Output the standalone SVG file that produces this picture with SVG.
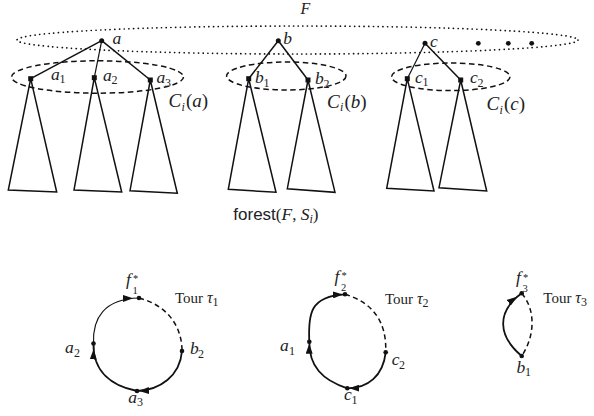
<svg xmlns="http://www.w3.org/2000/svg" width="594" height="416" viewBox="0 0 594 416">
<style>
.ln{fill:none;stroke:#111;stroke-width:1.5;stroke-linejoin:miter}
.tri{fill:none;stroke:#111;stroke-width:1.5}
.dash{fill:none;stroke:#111;stroke-width:1.5;stroke-dasharray:5.5 3.5}
.dot{fill:none;stroke:#111;stroke-width:1.7;stroke-dasharray:0.1 4.6;stroke-linecap:round}
.arc{fill:none;stroke:#111;stroke-width:1.8}
.thin{fill:none;stroke:#111;stroke-width:1.1}
.darc{fill:none;stroke:#111;stroke-width:1.5;stroke-dasharray:5 3.5}
.m{font-family:"Liberation Serif","DejaVu Serif",serif;font-style:italic;font-size:17.5px;fill:#222}
.s{font-family:"Liberation Serif","DejaVu Serif",serif;font-size:12px;font-style:normal;fill:#222}
.t{font-family:"Liberation Serif","DejaVu Serif",serif;font-size:10.5px;font-style:normal;fill:#222}
.r{font-family:"Liberation Serif","DejaVu Serif",serif;font-size:15px;fill:#222}
.big{font-size:19px}
.sf{font-family:"Liberation Sans","DejaVu Sans",sans-serif;font-size:17px;fill:#222}
.nd{fill:#111}
</style>
<defs>
<marker id="ah" markerUnits="userSpaceOnUse" viewBox="0 0 10 7" markerWidth="10" markerHeight="7" refX="12" refY="3.5" orient="auto">
<path d="M0,0 L10,3.5 L0,7 z" fill="#111"/>
</marker>
<marker id="ah6" markerUnits="userSpaceOnUse" viewBox="0 0 10 7" markerWidth="10" markerHeight="7" refX="16" refY="3.5" orient="auto">
<path d="M0,0 L10,3.5 L0,7 z" fill="#111"/>
</marker>
</defs>

<g id="forest-F">
<ellipse class="dot" cx="297.5" cy="40" rx="280.5" ry="14"/>
<text class="m" x="300.5" y="13.5" style="font-size:16px">F</text>
<circle class="nd" cx="478.3" cy="43.3" r="2.4"/>
<circle class="nd" cx="508.3" cy="43.3" r="2.4"/>
<circle class="nd" cx="531.7" cy="43.3" r="2.4"/>
</g>

<g id="connectors">
<line class="ln" x1="101.7" y1="40.7" x2="30.7" y2="78.7"/>
<line class="ln" x1="101.7" y1="40.7" x2="94.3" y2="77.7" style="stroke-width:1.2"/>
<line class="ln" x1="101.7" y1="40.7" x2="150.3" y2="80"/>
<line class="ln" x1="278.3" y1="40.7" x2="248.7" y2="78.7"/>
<line class="ln" x1="278.3" y1="40.7" x2="308" y2="80"/>
<line class="ln" x1="425" y1="43.3" x2="407.3" y2="78.7" style="stroke-width:1.2"/>
<line class="ln" x1="425" y1="43.3" x2="460.7" y2="80"/>
<!-- tour 1 -->
<path class="thin" d="M93.5,343.5 C92.5,318 104,299 139,298" marker-end="url(#ah6)"/>
<path class="arc" d="M137,391 C112,386 93,372 93.5,343.5" marker-end="url(#ah6)"/>
<path class="arc" d="M182,351 C180,376 160,390 137,391" marker-end="url(#ah)"/>
<path class="darc" d="M139,298 C166,305 182,325 182,351"/>
<!-- tour 2 -->
<path class="arc" d="M309.3,341.7 C308,314 310,296 345,294.3" marker-end="url(#ah)"/>
<path class="arc" d="M347.3,388.3 C322,380 309,366 309.3,341.7" marker-end="url(#ah)"/>
<path class="arc" d="M385.7,352.3 C383,376 368,388 347.3,388.3" marker-end="url(#ah)"/>
<path class="darc" d="M345,294.3 C371,302 387,320 385.7,352.3"/>
<!-- tour 3 -->
<path class="arc" d="M521.7,356 C498,336 496,312 521.7,293.3" marker-end="url(#ah6)"/>
<path class="darc" d="M521.7,293.3 C536,310 535,336 521.7,356"/>
</g>

<g id="node-a">
<circle class="nd" cx="101.7" cy="40.7" r="2.5"/>
<text class="m" x="112.5" y="43.5">a</text>
<ellipse class="dash" cx="97.5" cy="77" rx="86" ry="16.2"/>
<text class="m big" x="168.5" y="107">C</text><text class="s" x="181.5" y="110.5" style="font-style:italic">i</text><text class="r big" x="186" y="107">(<tspan class="m big">a</tspan>)</text>
</g>
<g id="node-a1">
<polygon class="tri" points="30.7,78.7 8.3,190 56.7,192"/>
<rect class="nd" x="28.2" y="76.2" width="5" height="5"/>
<text class="m" x="51" y="79.5">a</text><text class="s" x="59.5" y="83">1</text>
</g>
<g id="node-a2">
<polygon class="tri" points="94.3,77.7 74,190 121.7,192"/>
<rect class="nd" x="91.8" y="75.2" width="5" height="5"/>
<text class="m" x="103" y="80.5">a</text><text class="s" x="111.5" y="84">2</text>
</g>
<g id="node-a3">
<polygon class="tri" points="150.3,80 130,190.7 177.3,193.3"/>
<rect class="nd" x="147.8" y="77.5" width="5" height="5"/>
<text class="m" x="156.5" y="83">a</text><text class="s" x="165" y="86.5">3</text>
</g>

<g id="node-b">
<circle class="nd" cx="278.3" cy="40.7" r="2.5"/>
<text class="m" x="283.3" y="44">b</text>
<ellipse class="dash" cx="286.3" cy="76" rx="59.7" ry="14"/>
<text class="m big" x="327" y="107.5">C</text><text class="s" x="340" y="111" style="font-style:italic">i</text><text class="r big" x="344.5" y="107.5">(<tspan class="m big">b</tspan>)</text>
</g>
<g id="node-b1">
<polygon class="tri" points="248.7,78.7 228.3,189.3 276,192.3"/>
<rect class="nd" x="246.2" y="76.2" width="5" height="5"/>
<text class="m" x="255" y="83">b</text><text class="s" x="263.5" y="86.5">1</text>
</g>
<g id="node-b2">
<polygon class="tri" points="308,80 287.3,188.7 335,192.3"/>
<rect class="nd" x="305.5" y="77.5" width="5" height="5"/>
<text class="m" x="315" y="84">b</text><text class="s" x="323.5" y="87.5">2</text>
</g>

<g id="node-c">
<circle class="nd" cx="425" cy="43.3" r="2.5"/>
<text class="m" x="430" y="46.5">c</text>
<ellipse class="dash" cx="450.8" cy="76.8" rx="59.2" ry="13.8"/>
<text class="m big" x="486.5" y="110">C</text><text class="s" x="499.5" y="113.5" style="font-style:italic">i</text><text class="r big" x="504" y="110">(<tspan class="m big">c</tspan>)</text>
</g>
<g id="node-c1">
<polygon class="tri" points="407.3,78.7 386.7,188.3 434,191"/>
<rect class="nd" x="404.8" y="76.2" width="5" height="5"/>
<text class="m" x="415" y="82.5">c</text><text class="s" x="422.5" y="86">1</text>
</g>
<g id="node-c2">
<polygon class="tri" points="460.7,80 439,187.7 486.7,191"/>
<rect class="nd" x="458.2" y="77.5" width="5" height="5"/>
<text class="m" x="470" y="83">c</text><text class="s" x="477.5" y="86.5">2</text>
</g>

<g id="caption">
<text x="233.3" y="220"><tspan class="sf">forest</tspan><tspan class="r" style="font-size:17px">(</tspan><tspan class="m">F</tspan><tspan class="r" style="font-size:17px">, </tspan><tspan class="m">S</tspan><tspan class="s" style="font-style:italic" dy="3">i</tspan><tspan class="r" style="font-size:17px" dy="-3">)</tspan></text>
</g>

<g id="tour1">
<circle id="t1-f" class="nd" cx="139" cy="298" r="2.3"/>
<circle id="t1-a2" class="nd" cx="93.5" cy="343.5" r="2.3"/>
<circle id="t1-a3" class="nd" cx="137" cy="391" r="2.3"/>
<circle id="t1-b2" class="nd" cx="182" cy="351" r="2.3"/>
<text class="m" x="126" y="284.5">f</text><text class="t" x="133" y="282">*</text><text class="t" x="132.5" y="293.5">1</text>
<text class="r" x="175" y="303">Tour <tspan class="m" style="font-size:16px">τ</tspan><tspan class="s" dy="3">1</tspan></text>
<text class="m" x="65" y="353">a</text><text class="s" x="74" y="357">2</text>
<text class="m" x="190" y="354">b</text><text class="s" x="198" y="358">2</text>
<text class="m" x="128.3" y="402.5">a</text><text class="s" x="137" y="406">3</text>
</g>

<g id="tour2">
<circle id="t2-f" class="nd" cx="345" cy="294.3" r="2.3"/>
<circle id="t2-a1" class="nd" cx="309.3" cy="341.7" r="2.3"/>
<circle id="t2-c1" class="nd" cx="347.3" cy="388.3" r="2.3"/>
<circle id="t2-c2" class="nd" cx="385.7" cy="352.3" r="2.3"/>
<text class="m" x="334.5" y="281.5">f</text><text class="t" x="341.5" y="279">*</text><text class="t" x="341" y="290.5">2</text>
<text class="r" x="385" y="304">Tour <tspan class="m" style="font-size:16px">τ</tspan><tspan class="s" dy="3">2</tspan></text>
<text class="m" x="280" y="351">a</text><text class="s" x="289" y="354.5">1</text>
<text class="m" x="391.7" y="365">c</text><text class="s" x="399" y="368.5">2</text>
<text class="m" x="344" y="400">c</text><text class="s" x="351.5" y="403.5">1</text>
</g>

<g id="tour3">
<circle id="t3-f" class="nd" cx="521.7" cy="293.3" r="2.3"/>
<circle id="t3-b1" class="nd" cx="521.7" cy="356" r="2.3"/>
<text class="m" x="516" y="283">f</text><text class="t" x="523" y="280.5">*</text><text class="t" x="522.5" y="292">3</text>
<text class="r" x="543.3" y="303">Tour <tspan class="m" style="font-size:16px">τ</tspan><tspan class="s" dy="3">3</tspan></text>
<text class="m" x="516.5" y="372.5">b</text><text class="s" x="525" y="376">1</text>
</g>
</svg>
